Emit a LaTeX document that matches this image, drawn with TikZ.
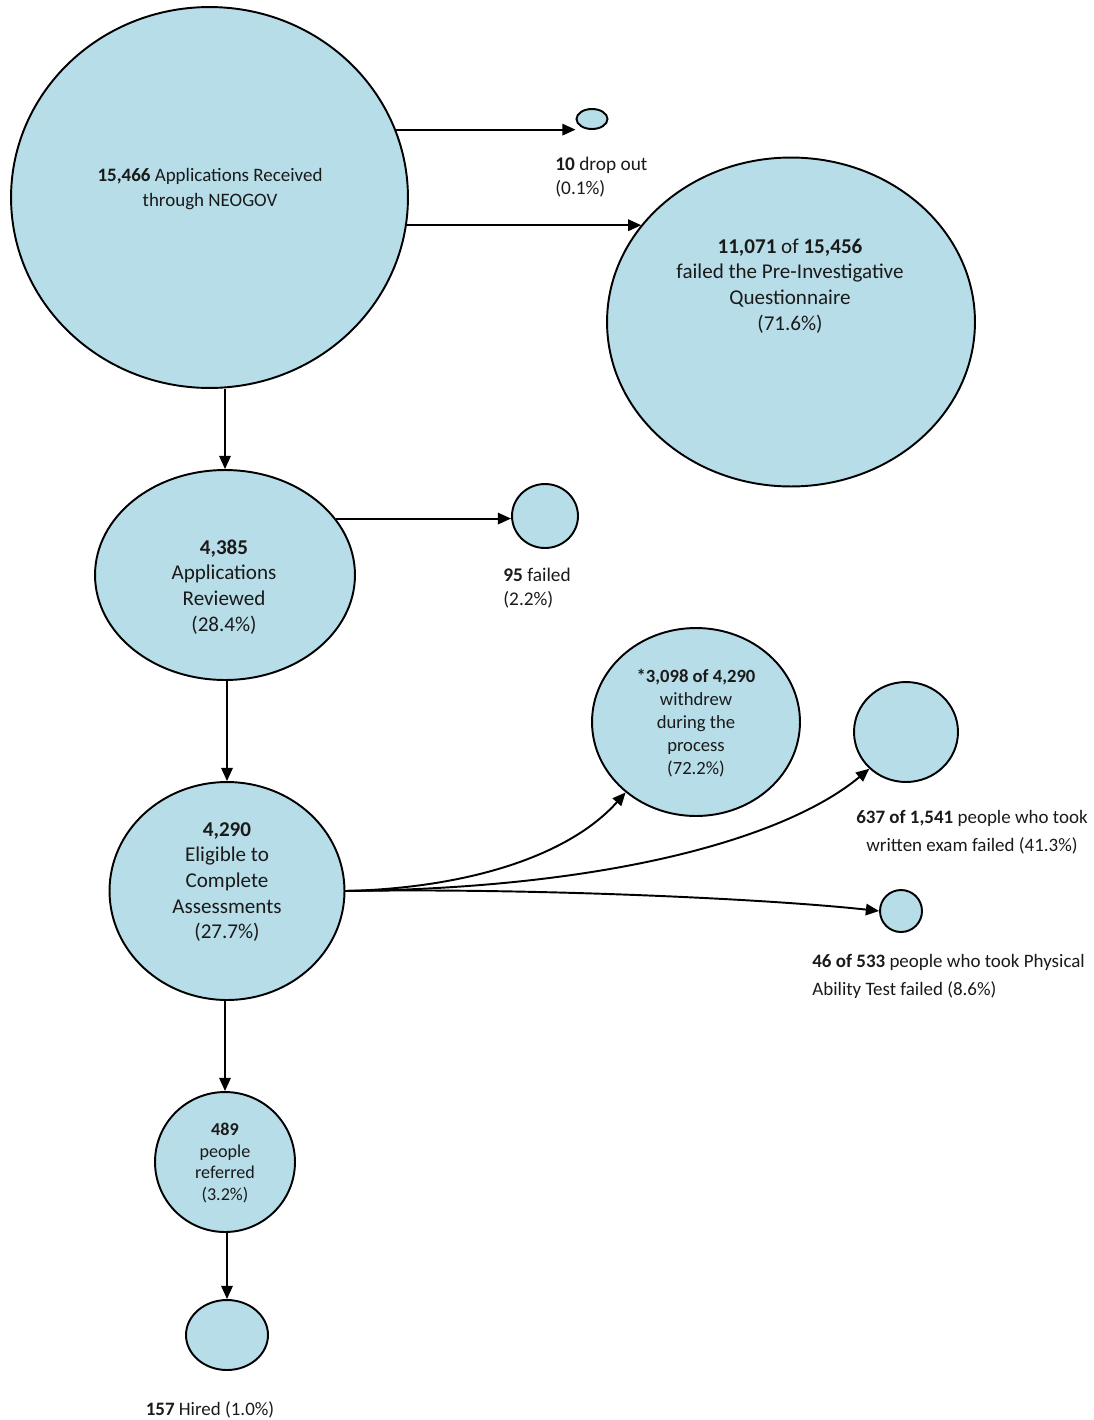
\documentclass[tikz,border=0pt]{standalone}
\usepackage{fontspec}
\setmainfont{Carlito}
\usetikzlibrary{arrows.meta,shapes.geometric,calc}
\definecolor{bubble}{HTML}{B7DDE8}
\definecolor{ink}{HTML}{1A1A1A}

\begin{document}
\begin{tikzpicture}[
 x=0.02cm,y=-0.02cm,font=\fontsize{10.8}{14.6}\selectfont,text=ink,
 blob/.style={ellipse,draw=black,fill=bubble,line width=1.1pt,inner sep=0pt},
 txt/.style={align=center,inner sep=0pt},
 big/.style={align=center,inner sep=0pt,font=\fontsize{12}{14.6}\selectfont},
 small/.style={align=center,inner sep=0pt,font=\fontsize{10.6}{13}\selectfont},
 lab/.style={inner sep=0pt,font=\fontsize{10.8}{16}\selectfont},
 flow/.style={-{Triangle[length=7.5pt,width=6.5pt]},line width=1.1pt}
]
\useasboundingbox (0,0) rectangle (1093,1420);

% bubbles
\node[blob,minimum width=7.94cm,minimum height=7.62cm] (recv) at (209.5,197.5) {};
\node[blob,minimum width=0.62cm,minimum height=0.40cm] (drop) at (592,119) {};
\node[blob,minimum width=7.36cm,minimum height=6.58cm] (pre) at (791,322) {};
\node[blob,minimum width=5.2cm,minimum height=4.2cm] (rev) at (225,575) {};
\node[blob,minimum width=1.32cm,minimum height=1.28cm] (fail) at (545,516) {};
\node[blob,minimum width=4.7cm,minimum height=4.36cm] (elig) at (227,891) {};
\node[blob,minimum width=4.16cm,minimum height=3.76cm] (wdr) at (696,722) {};
\node[blob,minimum width=2.08cm,minimum height=2.0cm] (exam) at (906,732) {};
\node[blob,minimum width=0.84cm,minimum height=0.84cm] (phys) at (901,911) {};
\node[blob,minimum width=2.8cm,minimum height=2.8cm] (refd) at (225,1162) {};
\node[blob,minimum width=1.64cm,minimum height=1.4cm] (hired) at (227,1335) {};

% texts
\node[txt] (recvtxt) at (210,189) {\textbf{15,466} Applications Received\\through NEOGOV};
\node[big] (pretxt) at (790,286) {\textbf{11,071} of \textbf{15,456}\\failed the Pre-Investigative\\Questionnaire\\(71.6\%)};
\node[big] (revtxt) at (224,587) {\textbf{4,385}\\Applications\\Reviewed\\(28.4\%)};
\node[big] (eligtxt) at (227,882) {\textbf{4,290}\\Eligible to\\Complete\\Assessments\\(27.7\%)};
\node[small] (wdrtxt) at (696,723) {\textbf{*3,098 of 4,290}\\withdrew\\during the\\process\\(72.2\%)};
\node[small,font=\fontsize{10.3}{12.5}\selectfont] (refdtxt) at (225,1163) {\textbf{489}\\people\\referred\\(3.2\%)};

% labels
\node[lab,align=left,anchor=west,font=\fontsize{11}{13.4}\selectfont] (droplab) at (555,177) {\textbf{10} drop out\\(0.1\%)};
\node[lab,align=left,anchor=west,font=\fontsize{11}{13.6}\selectfont] (faillab) at (503,588) {\textbf{95} failed\\(2.2\%)};
\node[lab,align=center] (examlab) at (972,832) {\textbf{637 of 1,541} people who took\\written exam failed (41.3\%)};
\node[lab,align=left,anchor=west] (physlab) at (812,976) {\textbf{46 of 533} people who took Physical\\Ability Test failed (8.6\%)};
\node[lab] (hiredlab) at (210,1410) {\textbf{157} Hired (1.0\%)};

% arrows
\draw[flow] (recv.20) -- (recv.20 -| drop.west);
\draw[flow] (recv.-8.6) -- (recv.-8.6 -| pre.147.7);
\draw[flow] (rev.north |- recv.south) -- (rev.north);
\draw[flow] (rev.27.6) -- (rev.27.6 -| fail.west);
\draw[flow] (elig.north |- rev.south) -- (elig.north);
\draw[flow] (elig.east) .. controls (470,888) and (570,855) .. (wdr.225);
\draw[flow] (elig.east) .. controls (620,888) and (790,835) .. (exam.225);
\draw[flow] (elig.east) .. controls (520,888) and (760,898) .. (phys.west);
\draw[flow] (refd.north |- elig.south) -- (refd.north);
\draw[flow] (hired.north |- refd.south) -- (hired.north);
\end{tikzpicture}
\end{document}
